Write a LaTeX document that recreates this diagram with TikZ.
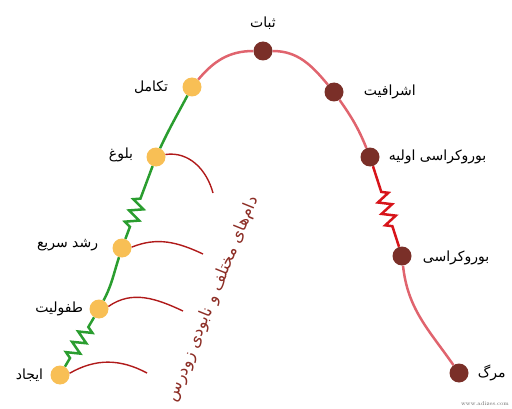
\documentclass[tikz,border=0pt]{standalone}
\usepackage{fontspec}
\newfontfamily\persianfont[Script=Arabic]{DejaVu Sans}
\TeXXeTstate=1
\newcommand{\fatext}[1]{{\persianfont\beginR #1\endR}}
\usepackage{xcolor}
\usepackage{tikz}
\usetikzlibrary{positioning, decorations.pathmorphing}
\definecolor{dotyellow}{HTML}{F8BF55}
\definecolor{dotbrown}{HTML}{7A2F28}
\definecolor{linegreen}{HTML}{2A9D2F}
\definecolor{linepink}{HTML}{E0646E}
\definecolor{linered}{HTML}{D7141A}
\definecolor{trapred}{HTML}{B01A1A}
\definecolor{notebrown}{HTML}{8C2D25}

\begin{document}
\begin{tikzpicture}[
    x=1pt, y=1pt,
    growdot/.style={circle, fill=dotyellow, minimum size=19pt, inner sep=0pt},
    agedot/.style={circle, fill=dotbrown, minimum size=19pt, inner sep=0pt},
    stage/.style={font=\fontsize{14}{16}\selectfont, inner sep=0pt, text=black},
    growline/.style={line width=2.5pt, draw=linegreen},
    ageline/.style={line width=2.5pt, draw=linepink},
    spring/.style={decorate, decoration={zigzag, amplitude=6.5pt, segment length=12pt, #1}},
    trap/.style={line width=1.4pt, draw=trapred},
    note/.style={font=\fontsize{16.5}{18}\selectfont, text=notebrown, inner sep=0pt}
]
    \useasboundingbox (0,0) rectangle (512,408);

    % Growing stages
    \node[growdot] (ejad) at (60,33) {};
    \node[growdot] (tofuliat) at (99,99) {};
    \node[growdot] (roshd) at (122,160) {};
    \node[growdot] (bolugh) at (156,251) {};
    \node[growdot] (takamol) at (192,321) {};

    % Ageing stages
    \node[agedot] (sobat) at (263,357) {};
    \node[agedot] (eshraf) at (334,316) {};
    \node[agedot] (bur1) at (370,251) {};
    \node[agedot] (bur) at (402,152) {};
    \node[agedot] (marg) at (459,35) {};

    % Labels
    \node[stage] (ejadlbl) [left=7pt of ejad] {\fatext{ایجاد}};
    \node[stage] (tofuliatlbl) [left=6pt of tofuliat] {\fatext{طفولیت}};
    \node[stage] (roshdlbl) [left=14pt of roshd, yshift=3pt] {\fatext{رشد سریع}};
    \node[stage] (bolughlbl) [left=13pt of bolugh, yshift=2pt] {\fatext{بلوغ}};
    \node[stage] (takamollbl) [left=14pt of takamol] {\fatext{تکامل}};
    \node[stage] (sobatlbl) [above=12pt of sobat] {\fatext{ثبات}};
    \node[stage] (eshraflbl) [right=20pt of eshraf] {\fatext{اشرافیت}};
    \node[stage] (bur1lbl) [right=9pt of bur1] {\fatext{بوروکراسی اولیه}};
    \node[stage] (burlbl) [right=11pt of bur, yshift=-2pt] {\fatext{بوروکراسی}};
    \node[stage] (marglbl) [right=9pt of marg] {\fatext{مرگ}};

    % Life curve
    \draw[growline, spring={pre length=10pt, post length=8pt}] (ejad) -- (tofuliat);
    \draw[growline] (tofuliat) to[out=62, in=-108] (roshd);
    \draw[growline, spring={pre length=13pt, post length=29pt}] (roshd) -- (bolugh);
    \draw[growline] (bolugh) to[out=65, in=-118] (takamol);
    \draw[ageline] (takamol) to[out=50, in=180] (sobat);
    \draw[ageline] (sobat) to[out=0, in=130] (eshraf);
    \draw[ageline] (eshraf) to[out=-55, in=112] (bur1);
    \draw[line width=2.5pt, draw=linered, spring={pre length=27pt, post length=21pt}] (bur1) -- (bur);
    \draw[ageline] (bur) to[out=-84, in=125] (marg);

    % Traps
    \coordinate (trap1) at (147,35);
    \coordinate (trap2) at (183,97);
    \coordinate (trap3) at (203,154);
    \coordinate (trap4) at (213,215);
    \draw[trap] (ejad.10) to[out=30, in=152] (trap1);
    \draw[trap] (tofuliat.15) to[out=35, in=155] (trap2);
    \draw[trap] (roshd.5) to[out=22, in=155] (trap3);
    \draw[trap] (bolugh.15) to[out=8, in=105] (trap4);

    \node[note, rotate=68] (damha) at (213,109) {\fatext{دام‌های مختلف و نابودی زودرس}};

    \node[font=\fontsize{5.5}{6}\selectfont, text=black!60, anchor=west, inner sep=0pt] (site) at (461,4) {www.adizes.com};
\end{tikzpicture}
\end{document}
